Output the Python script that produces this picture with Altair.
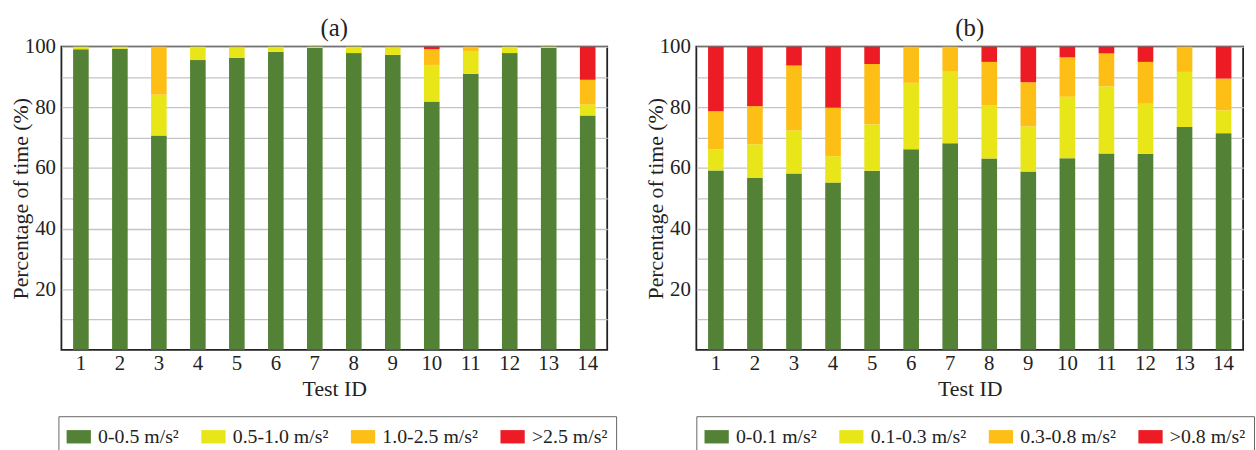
import altair as alt
import pandas as pd

test_ids = list(range(1, 15))
labels_a = ["0-0.5 m/s²", "0.5-1.0 m/s²", "1.0-2.5 m/s²", ">2.5 m/s²"]
labels_b = ["0-0.1 m/s²", "0.1-0.3 m/s²", "0.3-0.8 m/s²", ">0.8 m/s²"]
colors = ["#538135", "#e8e619", "#fdbf16", "#ed1c24"]

a_green = [99.2, 99.3, 70.7, 95.6, 96.3, 98.3, 99.6, 97.9, 97.3, 81.9, 91.1, 97.9, 99.6, 77.3]
a_yellow = [0.8, 0.7, 13.5, 4.4, 3.4, 1.7, 0.4, 2.1, 2.4, 12.1, 7.5, 2.1, 0.4, 3.6]
a_orange = [0, 0, 15.8, 0, 0.3, 0, 0, 0, 0.3, 5.2, 1.4, 0, 0, 8.2]
a_red = [0, 0, 0, 0, 0, 0, 0, 0, 0, 0.8, 0, 0, 0, 10.9]

b_green = [59.2, 56.7, 58.2, 55.2, 59.1, 66.2, 68.2, 63.1, 58.8, 63.2, 64.8, 64.7, 73.5, 71.5]
b_yellow = [7.0, 11.1, 14.2, 8.7, 15.3, 21.9, 23.6, 17.5, 14.9, 20.3, 22.1, 16.5, 18.2, 7.5]
b_orange = [12.5, 12.6, 21.4, 16.0, 19.9, 11.9, 8.2, 14.4, 14.6, 13.0, 10.9, 13.8, 8.3, 10.5]
b_red = [21.3, 19.6, 6.2, 20.1, 5.7, 0, 0, 5.0, 11.7, 3.5, 2.2, 5.0, 0, 10.5]

FONT = "Liberation Serif"
TXT = "#222222"


def to_long(series, labels):
    rows = []
    for k, (vals, lab) in enumerate(zip(series, labels)):
        for i, v in zip(test_ids, vals):
            rows.append({"id": i, "cat": lab, "k": k, "pct": v})
    return pd.DataFrame(rows)


def panel(df, labels, title, width, legend_x):
    return alt.Chart(df).mark_bar().encode(
        x=alt.X("id:O", title="Test ID",
                scale=alt.Scale(paddingInner=0.6, paddingOuter=0.3),
                axis=alt.Axis(labelAngle=0, ticks=False, domain=False, grid=False,
                              labelPadding=3, titlePadding=5)),
        y=alt.Y("pct:Q", stack="zero", title="Percentage of time (%)",
                scale=alt.Scale(domain=[0, 100], nice=False),
                axis=alt.Axis(values=list(range(10, 101, 10)),
                              labelExpr="datum.value % 20 == 0 ? datum.label : ''",
                              ticks=False, domain=False, gridColor="#c4c4c4",
                              gridWidth=1.3, labelPadding=6, titlePadding=-8)),
        color=alt.Color("cat:N", sort=labels,
                        scale=alt.Scale(domain=labels, range=colors),
                        legend=alt.Legend(title=None, orient="none", legendX=legend_x, legendY=373,
                                          direction="horizontal", columns=4,
                                          symbolType="M-1,-0.55L1,-0.55L1,0.55L-1,0.55Z",
                                          symbolSize=600, symbolStrokeWidth=0,
                                          labelFont=FONT, labelFontSize=20, labelColor=TXT,
                                          labelOffset=7, columnPadding=22, padding=8,
                                          strokeColor="#666666", fillColor="white")),
        order=alt.Order("k:Q", sort="ascending"),
    ).properties(width=width, height=306, title=title)


pa = panel(to_long([a_green, a_yellow, a_orange, a_red], labels_a), labels_a, "(a)", 551, -3)
pb = panel(to_long([b_green, b_yellow, b_orange, b_red], labels_b), labels_b, "(b)", 552, 0)

chart = alt.hconcat(pa, pb, spacing=90, bounds="flush").resolve_scale(color="independent").properties(
    padding={"left": 8, "top": 13, "right": 0, "bottom": 0}
).configure_view(stroke="#222222", strokeWidth=1.8).configure_axis(
    labelFont=FONT, labelFontSize=21, labelColor=TXT,
    titleFont=FONT, titleFontSize=22, titleFontWeight="normal", titleColor=TXT
).configure_title(font=FONT, fontSize=25, fontWeight="normal", color=TXT, offset=-5)

chart.save("out.html", embed_options={"renderer": "svg", "actions": False})
